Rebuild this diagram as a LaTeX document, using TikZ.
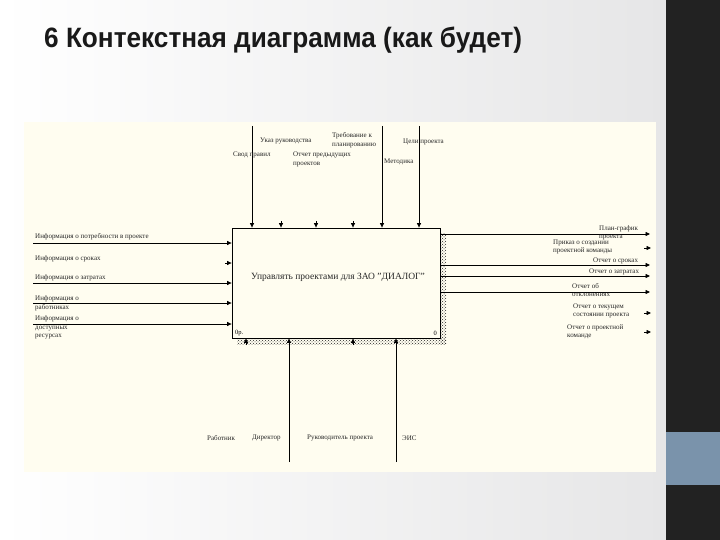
\documentclass[tikz,border=0pt]{standalone}
\usepackage{fontspec}
\setmainfont{Liberation Serif}
\newfontfamily\titlefont[FakeStretch=0.935]{Liberation Sans}
\usetikzlibrary{arrows.meta,patterns}
\definecolor{slidegray}{HTML}{E6E6E7}
\definecolor{stripdark}{HTML}{222222}
\definecolor{accentblue}{HTML}{7A93AB}
\definecolor{cream}{HTML}{FFFDF0}

\tikzset{
  flow/.style={-{Triangle[length=4.5pt,width=4pt]},line width=0.75pt},
  lbl/.style={font=\fontsize{7}{8.5}\selectfont,inner sep=0pt,align=left,text=black!85,anchor=west},
}

\begin{document}
\begin{tikzpicture}[x=1pt,y=-1pt]
        \useasboundingbox (0,0) rectangle (720,540);
        % slide
        \shade[left color=white,right color=slidegray] (0,0) rectangle (666,540);
        \fill[stripdark] (666,0) rectangle (720,540);
        \fill[accentblue] (666,432) rectangle (720,485);
        \fill[cream] (24,122) rectangle (656,472);
        \node[anchor=base west,inner sep=0pt,text=black!90,font=\titlefont\bfseries\fontsize{28}{30}\selectfont] (title) at (44,48) {6 Контекстная диаграмма (как будет)};

        % activity box
        \fill[pattern=crosshatch dots,pattern color=black!85] (440,233) rectangle (446,344);
        \fill[pattern=crosshatch dots,pattern color=black!85] (237,338) rectangle (446,344);
        \node[draw,fill=cream,line width=0.8pt,minimum width=208pt,minimum height=110pt,inner sep=0pt] (act) at (336,283) {};
        \node[font=\fontsize{9.5}{11}\selectfont,inner sep=0pt,text=black!85] (actname) at (338,277) {Управлять проектами для ЗАО "ДИАЛОГ"};
        \node[font=\fontsize{6.5}{8}\selectfont,inner sep=0pt,anchor=west] (nodeno) at (235,333) {0р.};
        \node[font=\fontsize{6.5}{8}\selectfont,inner sep=0pt,anchor=east] (nodenum) at (437,333) {0};

        % inputs
        \coordinate (i1) at (33,243);
        \coordinate (i2) at (225,263);
        \coordinate (i3) at (33,283);
        \coordinate (i4) at (33,303);
        \coordinate (i5) at (33,324);
        \draw[flow] (i1) -- (i1 -| act.west);
        \draw[flow] (i2) -- (i2 -| act.west);
        \draw[flow] (i3) -- (i3 -| act.west);
        \draw[flow] (i4) -- (i4 -| act.west);
        \draw[flow] (i5) -- (i5 -| act.west);
        \node[lbl] (inPotr) at (35,237) {Информация о потребности в проекте};
        \node[lbl] (inSrok) at (35,259) {Информация о сроках};
        \node[lbl] (inZatr) at (35,278) {Информация о затратах};
        \node[lbl] (inRab) at (35,303.5) {Информация о\\работниках};
        \node[lbl] (inRes) at (35,327.5) {Информация о\\доступных\\ресурсах};

        % controls
        \coordinate (c1) at (252,126);
        \coordinate (c2) at (281,221);
        \coordinate (c3) at (316,221);
        \coordinate (c4) at (353,221);
        \coordinate (c5) at (382,126);
        \coordinate (c6) at (419,126);
        \draw[flow] (c1) -- (c1 |- act.north);
        \draw[flow] (c2) -- (c2 |- act.north);
        \draw[flow] (c3) -- (c3 |- act.north);
        \draw[flow] (c4) -- (c4 |- act.north);
        \draw[flow] (c5) -- (c5 |- act.north);
        \draw[flow] (c6) -- (c6 |- act.north);
        \node[lbl] (svod) at (233,155) {Свод правил};
        \node[lbl] (ukaz) at (260,141) {Указ руководства};
        \node[lbl] (otchPrev) at (293,159.5) {Отчет предыдущих\\проектов};
        \node[lbl] (treb) at (332,140) {Требование к\\планированию};
        \node[lbl] (metod) at (384,162) {Методика};
        \node[lbl] (celi) at (403,142) {Цели проекта};

        % outputs
        \coordinate (o1) at (650,234);
        \coordinate (o2s) at (644,248);
        \coordinate (o2) at (651,248);
        \coordinate (o3) at (650,265);
        \coordinate (o4) at (650,276);
        \coordinate (o5) at (650,292);
        \coordinate (o6s) at (644,313);
        \coordinate (o6) at (651,313);
        \coordinate (o7s) at (644,332);
        \coordinate (o7) at (651,332);
        \draw[flow] (act.east |- o1) -- (o1);
        \draw[flow] (o2s) -- (o2);
        \draw[flow] (act.east |- o3) -- (o3);
        \draw[flow] (act.east |- o4) -- (o4);
        \draw[flow] (act.east |- o5) -- (o5);
        \draw[flow] (o6s) -- (o6);
        \draw[flow] (o7s) -- (o7);
        \node[lbl] (plan) at (599,233) {План-график\\проекта};
        \node[lbl] (prikaz) at (553,247) {Приказ о создании\\проектной команды};
        \node[lbl] (outSrok) at (593,261) {Отчет о сроках};
        \node[lbl] (outZatr) at (589,272) {Отчет о затратах};
        \node[lbl] (outOtkl) at (572,290) {Отчет об\\отклонениях};
        \node[lbl] (outTek) at (573,311) {Отчет о текущем\\состоянии проекта};
        \node[lbl] (outKom) at (567,332) {Отчет о проектной\\команде};

        % mechanisms
        \coordinate (m1) at (246,345);
        \coordinate (m2) at (289,462);
        \coordinate (m3) at (353,345);
        \coordinate (m4) at (396,462);
        \draw[flow] (m1) -- (m1 |- act.south);
        \draw[flow] (m2) -- (m2 |- act.south);
        \draw[flow] (m3) -- (m3 |- act.south);
        \draw[flow] (m4) -- (m4 |- act.south);
        \node[lbl] (rab) at (207,438) {Работник};
        \node[lbl] (dir) at (252,438) {Директор};
        \node[lbl] (ruk) at (307,438) {Руководитель проекта};
        \node[lbl] (eis) at (402,438) {ЭИС};
      \end{tikzpicture}
\end{document}
